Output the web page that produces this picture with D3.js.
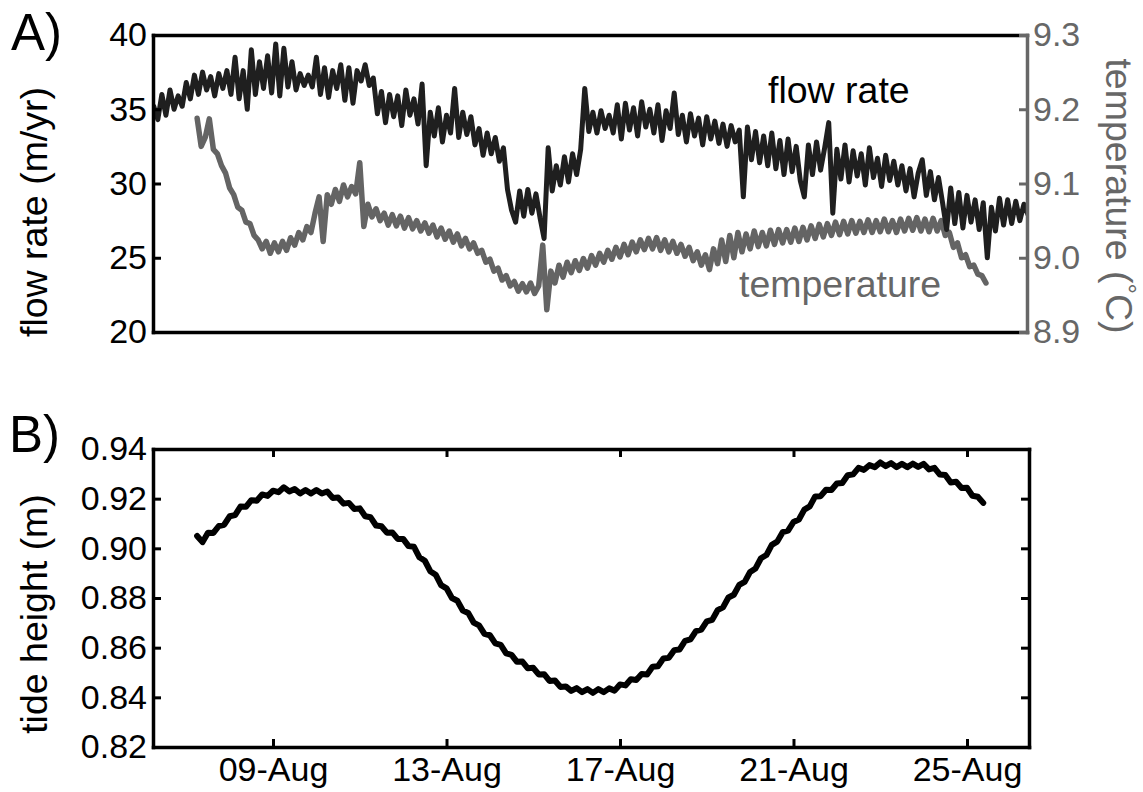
<!DOCTYPE html>
<html>
<head>
<meta charset="utf-8">
<script src="https://cdn.jsdelivr.net/npm/d3@7"></script>
<style>
  body { margin: 0; background: #fff; }
  text { font-family: "Liberation Sans", Arial, Helvetica, sans-serif; }
</style>
</head>
<body>
<svg id="chart" width="1143" height="792"></svg>
<script>
// ---- data: samples are spaced evenly in time, times given in days of August ----
const flowStart = 6.25, flowStep = 0.09375;
const flowRate = [
  35.2, 34.3, 36.0, 34.6, 36.3, 35.0, 35.9, 35.2, 36.8, 35.7, 37.3, 36.0, 37.5, 36.3, 37.2, 35.9,
  37.4, 36.4, 37.6, 36.0, 38.5, 35.7, 37.6, 35.0, 39.0, 36.0, 38.2, 36.4, 38.6, 36.1, 39.4, 35.9,
  39.1, 36.5, 38.2, 36.3, 37.4, 36.6, 37.3, 36.5, 38.5, 36.0, 37.8, 35.8, 37.6, 36.4, 38.0, 35.6,
  37.8, 35.4, 37.6, 36.9, 38.0, 36.6, 37.1, 34.7, 36.2, 34.1, 36.0, 34.5, 35.9, 33.9, 36.3, 34.6,
  35.7, 34.0, 36.7, 31.2, 34.8, 33.2, 35.1, 32.8, 34.6, 33.4, 36.4, 33.1, 34.8, 33.3, 34.5, 32.6,
  33.7, 31.9, 33.4, 32.0, 33.1, 31.5, 32.4, 29.6, 28.2, 27.4, 29.5, 27.8, 29.6, 28.0, 29.3, 27.7,
  26.3, 32.4, 29.5, 31.2, 29.9, 31.8, 30.1, 32.0, 30.6, 32.3, 36.4, 33.5, 34.8, 33.4, 34.9, 33.7,
  34.6, 33.4, 35.3, 33.0, 35.4, 33.6, 35.1, 33.2, 35.5, 33.8, 35.0, 33.4, 35.3, 32.9, 34.9, 33.7,
  36.1, 33.3, 34.6, 32.8, 34.7, 33.2, 34.4, 32.6, 34.5, 33.0, 34.2, 32.7, 34.0, 32.5, 33.9, 32.8,
  33.6, 29.1, 33.8, 31.6, 33.5, 31.4, 33.2, 31.2, 33.4, 31.0, 32.9, 30.6, 33.0, 30.8, 32.5, 30.2,
  29.1, 32.6, 30.6, 32.8, 30.9, 32.4, 34.1, 28.0, 32.3, 30.3, 32.6, 30.1, 32.2, 30.5, 32.0, 29.9,
  32.4, 30.4, 31.7, 29.8, 31.9, 30.2, 31.5, 29.9, 31.2, 29.5, 31.0, 29.1, 30.7, 31.6, 29.2, 30.8,
  28.9, 30.4, 28.7, 26.9, 29.7, 27.3, 29.4, 27.0, 29.2, 27.4, 28.9, 26.9, 28.7, 25.0, 28.4, 26.8,
  29.0, 27.2, 28.9, 27.3, 28.8, 27.5, 28.6, 27.9
];

const tempStart = 7.25, tempStep = 0.09375;
const temperature = [
  9.188, 9.150, 9.162, 9.187, 9.146, 9.140, 9.124, 9.114, 9.094, 9.085, 9.068, 9.064, 9.048, 9.046, 9.030, 9.024,
  9.012, 9.022, 9.006, 9.020, 9.008, 9.022, 9.010, 9.027, 9.017, 9.034, 9.024, 9.042, 9.034, 9.060, 9.082, 9.022,
  9.085, 9.072, 9.092, 9.076, 9.098, 9.082, 9.096, 9.086, 9.128, 9.042, 9.072, 9.055, 9.066, 9.050, 9.060, 9.044,
  9.058, 9.043, 9.056, 9.040, 9.054, 9.039, 9.050, 9.036, 9.047, 9.033, 9.044, 9.028, 9.040, 9.025, 9.036, 9.021,
  9.032, 9.016, 9.026, 9.012, 9.020, 9.006, 9.010, 8.994, 8.998, 8.982, 8.986, 8.970, 8.976, 8.962, 8.968, 8.955,
  8.965, 8.954, 8.966, 8.952, 8.962, 9.017, 8.930, 8.982, 8.966, 8.990, 8.974, 8.994, 8.980, 8.996, 8.983, 8.999,
  8.986, 9.003, 8.990, 9.006, 8.994, 9.010, 8.998, 9.014, 9.001, 9.018, 9.004, 9.021, 9.008, 9.024, 9.011, 9.026,
  9.012, 9.027, 9.010, 9.024, 9.008, 9.022, 9.006, 9.018, 9.002, 9.014, 8.996, 9.008, 8.990, 9.004, 8.984, 9.012,
  8.992, 9.024, 8.995, 9.030, 9.000, 9.034, 9.008, 9.032, 9.012, 9.036, 9.015, 9.034, 9.016, 9.037, 9.018, 9.038,
  9.020, 9.038, 9.021, 9.040, 9.022, 9.041, 9.024, 9.043, 9.026, 9.045, 9.028, 9.046, 9.030, 9.048, 9.031, 9.049,
  9.032, 9.050, 9.033, 9.049, 9.034, 9.051, 9.034, 9.050, 9.035, 9.052, 9.035, 9.050, 9.034, 9.052, 9.036, 9.053,
  9.037, 9.054, 9.036, 9.052, 9.035, 9.053, 9.036, 9.050, 9.030, 9.034, 9.014, 9.020, 9.000, 9.004, 8.988, 8.990,
  8.978, 8.976, 8.966
];

const tideStart = 7.25, tideStep = 0.125;
const tideHeight = [
  0.9050, 0.9025, 0.9063, 0.9062, 0.9090, 0.9095, 0.9129, 0.9134, 0.9168, 0.9167, 0.9194, 0.9192, 0.9217, 0.9211, 0.9232, 0.9226,
  0.9246, 0.9229, 0.9239, 0.9221, 0.9235, 0.9221, 0.9235, 0.9221, 0.9229, 0.9203, 0.9205, 0.9180, 0.9183, 0.9158, 0.9161, 0.9129,
  0.9125, 0.9092, 0.9089, 0.9063, 0.9064, 0.9038, 0.9038, 0.9009, 0.9006, 0.8964, 0.8950, 0.8908, 0.8894, 0.8852, 0.8839, 0.8800,
  0.8789, 0.8750, 0.8740, 0.8701, 0.8690, 0.8656, 0.8650, 0.8617, 0.8611, 0.8577, 0.8571, 0.8543, 0.8544, 0.8517, 0.8519, 0.8492,
  0.8493, 0.8466, 0.8468, 0.8442, 0.8444, 0.8426, 0.8437, 0.8421, 0.8433, 0.8418, 0.8433, 0.8421, 0.8436, 0.8427, 0.8452, 0.8448,
  0.8473, 0.8470, 0.8494, 0.8492, 0.8523, 0.8525, 0.8556, 0.8559, 0.8590, 0.8593, 0.8627, 0.8633, 0.8667, 0.8673, 0.8706, 0.8712,
  0.8751, 0.8762, 0.8802, 0.8813, 0.8853, 0.8865, 0.8905, 0.8919, 0.8960, 0.8973, 0.9014, 0.9027, 0.9065, 0.9071, 0.9106, 0.9116,
  0.9156, 0.9169, 0.9209, 0.9210, 0.9236, 0.9235, 0.9261, 0.9263, 0.9294, 0.9298, 0.9324, 0.9316, 0.9335, 0.9327, 0.9346, 0.9331,
  0.9343, 0.9327, 0.9340, 0.9327, 0.9341, 0.9328, 0.9340, 0.9318, 0.9324, 0.9297, 0.9295, 0.9265, 0.9268, 0.9243, 0.9244, 0.9212,
  0.9208, 0.9183
];

const dayTicks = [9, 13, 17, 21, 25];
const dayTickLabels = ["09-Aug", "13-Aug", "17-Aug", "21-Aug", "25-Aug"];
const flowTicks = [20, 25, 30, 35, 40];
const tempTicks = [8.9, 9.0, 9.1, 9.2, 9.3];
const tideTicks = [0.82, 0.84, 0.86, 0.88, 0.90, 0.92, 0.94];

// ---- layout ----
const svg = d3.select("#chart");
const INK = "#000", FLOW = "#1f1f1f", GREY = "#676767";
const TICK_FONT = 34, LABEL_FONT = 37.5;

const panelA = { left: 153, right: 1027, top: 35, bottom: 332 };
const panelB = { left: 153, right: 1029, top: 449, bottom: 747 };

const x = d3.scaleLinear().domain([6.233, 26.43]).range([153, 1029]);
const yFlow = d3.scaleLinear().domain([20, 40]).range([panelA.bottom, panelA.top]);
const yTemp = d3.scaleLinear().domain([8.9, 9.3]).range([panelA.bottom, panelA.top]);
const yTide = d3.scaleLinear().domain([0.82, 0.94]).range([panelB.bottom, panelB.top]);

const series = (vals, t0, dt) => vals.map((v, i) => ({ t: t0 + i * dt, v }));

// clip paths for the two plotting boxes
const defs = svg.append("defs");
defs.append("clipPath").attr("id", "clipA").append("rect")
  .attr("x", panelA.left).attr("y", panelA.top)
  .attr("width", panelA.right - panelA.left).attr("height", panelA.bottom - panelA.top);
defs.append("clipPath").attr("id", "clipB").append("rect")
  .attr("x", panelB.left).attr("y", panelB.top)
  .attr("width", panelB.right - panelB.left).attr("height", panelB.bottom - panelB.top);

// ---- panel A: flow rate and temperature ----
const gA = svg.append("g");
const lineTemp = d3.line().x(d => x(d.t)).y(d => yTemp(d.v));
const lineFlow = d3.line().x(d => x(d.t)).y(d => yFlow(d.v));

gA.append("path")
  .datum(series(temperature, tempStart, tempStep))
  .attr("clip-path", "url(#clipA)")
  .attr("d", lineTemp)
  .attr("fill", "none").attr("stroke", "#646464")
  .attr("stroke-width", 5.5).attr("stroke-linejoin", "round").attr("stroke-linecap", "round");

gA.append("path")
  .datum(series(flowRate, flowStart, flowStep))
  .attr("clip-path", "url(#clipA)")
  .attr("d", lineFlow)
  .attr("fill", "none").attr("stroke", FLOW)
  .attr("stroke-width", 5).attr("stroke-linejoin", "round").attr("stroke-linecap", "round");

function styleAxis(g, color) {
  g.select(".domain").attr("stroke", color).attr("stroke-width", 3.5).attr("stroke-linecap", "square");
  g.selectAll(".tick line").attr("stroke", color).attr("stroke-width", 3);
  g.selectAll(".tick text").attr("fill", color).attr("font-size", TICK_FONT)
    .attr("font-family", "Liberation Sans, Arial, sans-serif");
}

// top and bottom frame lines of panel A (no ticks)
gA.append("g").attr("transform", `translate(0,${panelA.top})`)
  .call(d3.axisTop(d3.scaleLinear().domain([0, 1]).range([panelA.left, panelA.right])).tickValues([]).tickSizeOuter(0))
  .call(g => styleAxis(g, INK));
gA.append("g").attr("transform", `translate(0,${panelA.bottom})`)
  .call(d3.axisBottom(d3.scaleLinear().domain([0, 1]).range([panelA.left, panelA.right])).tickValues([]).tickSizeOuter(0))
  .call(g => styleAxis(g, INK));

// left axis: flow rate
gA.append("g").attr("transform", `translate(${panelA.left},0)`)
  .call(d3.axisLeft(yFlow).tickValues(flowTicks).tickFormat(d3.format("d")).tickSizeInner(-8).tickSizeOuter(0).tickPadding(6))
  .call(g => styleAxis(g, INK));

// right axis: temperature
gA.append("g").attr("transform", `translate(${panelA.right},0)`)
  .call(d3.axisRight(yTemp).tickValues(tempTicks).tickFormat(d3.format(".1f")).tickSizeInner(-8).tickSizeOuter(0).tickPadding(6))
  .call(g => styleAxis(g, GREY));

// axis titles and series labels
gA.append("text")
  .attr("transform", "translate(47,212) rotate(-90)")
  .attr("text-anchor", "middle").attr("font-size", LABEL_FONT).attr("fill", INK)
  .text("flow rate (m/yr)");

const tTitle = gA.append("text")
  .attr("transform", "translate(1106,196) rotate(90)")
  .attr("text-anchor", "middle").attr("font-size", LABEL_FONT).attr("fill", GREY);
tTitle.append("tspan").text("temperature (");
tTitle.append("tspan").attr("font-size", LABEL_FONT * 0.7).attr("dy", -12).text("°");
tTitle.append("tspan").attr("dy", 12).text("C)");

gA.append("text").attr("x", 768).attr("y", 103)
  .attr("font-size", LABEL_FONT).attr("fill", INK).text("flow rate");
gA.append("text").attr("x", 739).attr("y", 297)
  .attr("font-size", LABEL_FONT).attr("fill", GREY).text("temperature");

svg.append("text").attr("x", 11).attr("y", 50)
  .attr("font-size", 51).attr("fill", INK).text("A)");

// ---- panel B: tide height ----
const gB = svg.append("g");
const lineTide = d3.line().x(d => x(d.t)).y(d => yTide(d.v));

gB.append("path")
  .datum(series(tideHeight, tideStart, tideStep))
  .attr("clip-path", "url(#clipB)")
  .attr("d", lineTide)
  .attr("fill", "none").attr("stroke", INK)
  .attr("stroke-width", 6).attr("stroke-linejoin", "round").attr("stroke-linecap", "round");

gB.append("g").attr("transform", `translate(0,${panelB.bottom})`)
  .call(d3.axisBottom(x).tickValues(dayTicks).tickFormat((d, i) => dayTickLabels[i])
    .tickSizeInner(-8).tickSizeOuter(0).tickPadding(10))
  .call(g => styleAxis(g, INK));
gB.append("g").attr("transform", `translate(0,${panelB.top})`)
  .call(d3.axisTop(x).tickValues(dayTicks).tickFormat("").tickSizeInner(-8).tickSizeOuter(0))
  .call(g => styleAxis(g, INK));
gB.append("g").attr("transform", `translate(${panelB.left},0)`)
  .call(d3.axisLeft(yTide).tickValues(tideTicks).tickFormat(d3.format(".2f")).tickSizeInner(-8).tickSizeOuter(0).tickPadding(6))
  .call(g => styleAxis(g, INK));
gB.append("g").attr("transform", `translate(${panelB.right},0)`)
  .call(d3.axisRight(yTide).tickValues(tideTicks).tickFormat("").tickSizeInner(-8).tickSizeOuter(0))
  .call(g => styleAxis(g, INK));

gB.append("text")
  .attr("transform", "translate(47,614) rotate(-90)")
  .attr("text-anchor", "middle").attr("font-size", LABEL_FONT).attr("fill", INK)
  .text("tide height (m)");

svg.append("text").attr("x", 9).attr("y", 452)
  .attr("font-size", 51).attr("fill", INK).text("B)");
</script>
</body>
</html>
